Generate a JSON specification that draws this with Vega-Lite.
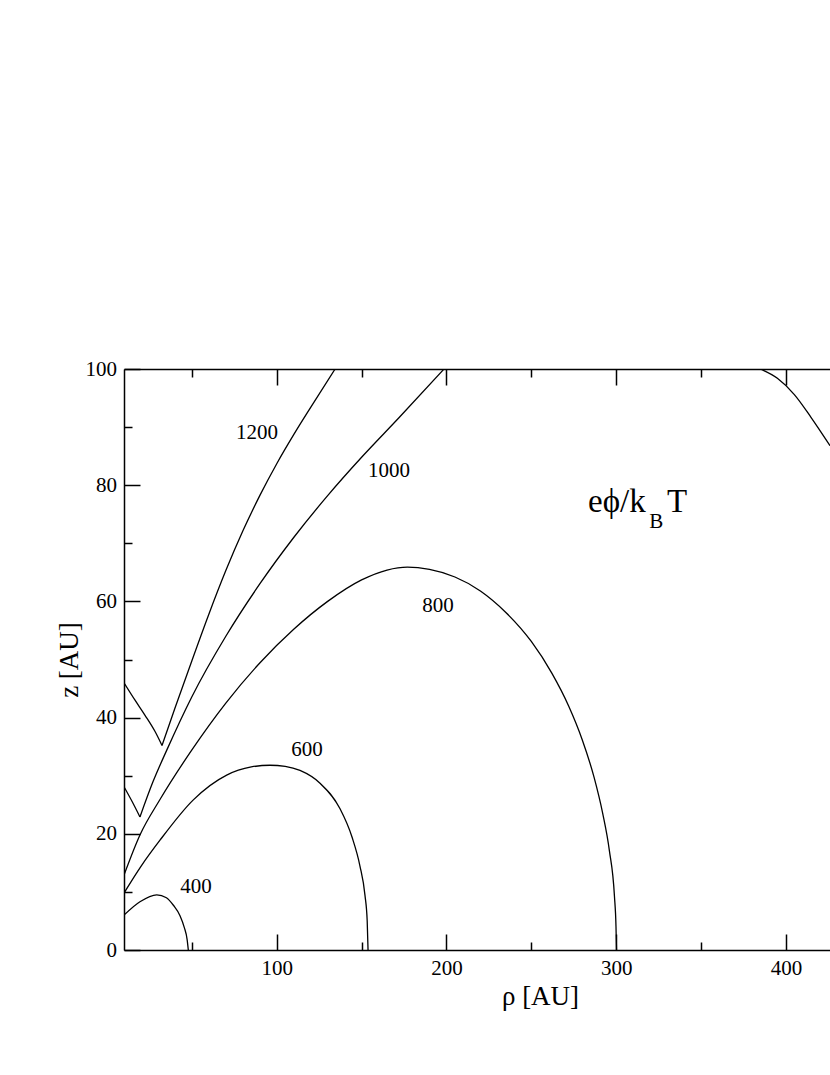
{
  "$schema": "https://vega.github.io/schema/vega-lite/v6.json",
  "width": 706,
  "height": 581,
  "autosize": "none",
  "padding": {"left": 124, "top": 369, "right": 0, "bottom": 125},
  "background": "white",
  "config": {
    "view": {"stroke": null},
    "font": "Liberation Serif",
    "axis": {
      "labelFont": "Liberation Serif", "titleFont": "Liberation Serif",
      "labelColor": "black", "titleColor": "black", "tickColor": "black", "domainColor": "black",
      "grid": false, "labelFontSize": 21, "titleFontSize": 27, "titleFontWeight": "normal",
      "tickWidth": 1.5, "domainWidth": 1.5, "labelOverlap": false, "labelFlush": false
    }
  },
  "resolve": {"axis": {"x": "independent", "y": "independent"}},
  "layer": [
    {
      "data": {"values": [
        {"seg": "1200a", "rho": 10, "z": 46.0}, {"seg": "1200a", "rho": 16.5, "z": 43.0}, {"seg": "1200a", "rho": 22.4, "z": 40.4}, {"seg": "1200a", "rho": 28.3, "z": 37.6}, {"seg": "1200a", "rho": 32.4, "z": 35.2},
        {"seg": "1200b", "rho": 32.4, "z": 35.2}, {"seg": "1200b", "rho": 40, "z": 41.6}, {"seg": "1200b", "rho": 50, "z": 49.8}, {"seg": "1200b", "rho": 60, "z": 57.8}, {"seg": "1200b", "rho": 70, "z": 65.3}, {"seg": "1200b", "rho": 80, "z": 72.1}, {"seg": "1200b", "rho": 90, "z": 78.2}, {"seg": "1200b", "rho": 100, "z": 83.7}, {"seg": "1200b", "rho": 110, "z": 88.7}, {"seg": "1200b", "rho": 120, "z": 93.4}, {"seg": "1200b", "rho": 134.4, "z": 100},
        {"seg": "1000a", "rho": 10, "z": 28.1}, {"seg": "1000a", "rho": 14.7, "z": 25.6}, {"seg": "1000a", "rho": 19.4, "z": 22.9},
        {"seg": "1000b", "rho": 19.4, "z": 22.9}, {"seg": "1000b", "rho": 27, "z": 28.9}, {"seg": "1000b", "rho": 35.2, "z": 34.4}, {"seg": "1000b", "rho": 50, "z": 43.6}, {"seg": "1000b", "rho": 70, "z": 54.0}, {"seg": "1000b", "rho": 90, "z": 63.0}, {"seg": "1000b", "rho": 110, "z": 71.0}, {"seg": "1000b", "rho": 130, "z": 78.2}, {"seg": "1000b", "rho": 150, "z": 84.8}, {"seg": "1000b", "rho": 172, "z": 91.6}, {"seg": "1000b", "rho": 198.6, "z": 100},
        {"seg": "800", "rho": 10, "z": 12.9}, {"seg": "800", "rho": 19.4, "z": 19.8}, {"seg": "800", "rho": 31.2, "z": 25.9}, {"seg": "800", "rho": 49.9, "z": 34.4}, {"seg": "800", "rho": 70, "z": 42.5}, {"seg": "800", "rho": 90, "z": 49.4}, {"seg": "800", "rho": 110, "z": 55.2}, {"seg": "800", "rho": 130, "z": 60.0}, {"seg": "800", "rho": 150, "z": 63.7}, {"seg": "800", "rho": 165, "z": 65.4}, {"seg": "800", "rho": 177, "z": 65.9}, {"seg": "800", "rho": 190, "z": 65.5}, {"seg": "800", "rho": 205, "z": 64.2}, {"seg": "800", "rho": 220, "z": 61.8}, {"seg": "800", "rho": 235, "z": 58.1}, {"seg": "800", "rho": 250, "z": 53.1}, {"seg": "800", "rho": 262, "z": 47.7}, {"seg": "800", "rho": 272, "z": 42.0}, {"seg": "800", "rho": 280, "z": 36.2}, {"seg": "800", "rho": 287, "z": 29.7}, {"seg": "800", "rho": 292, "z": 23.6}, {"seg": "800", "rho": 296, "z": 17.1}, {"seg": "800", "rho": 299, "z": 9.2}, {"seg": "800", "rho": 299.9, "z": 4.0}, {"seg": "800", "rho": 300.2, "z": 0},
        {"seg": "600", "rho": 10, "z": 9.8}, {"seg": "600", "rho": 20, "z": 14.4}, {"seg": "600", "rho": 31.2, "z": 18.9}, {"seg": "600", "rho": 50.7, "z": 25.8}, {"seg": "600", "rho": 70.5, "z": 30.1}, {"seg": "600", "rho": 85, "z": 31.5}, {"seg": "600", "rho": 96, "z": 31.8}, {"seg": "600", "rho": 105, "z": 31.6}, {"seg": "600", "rho": 113.7, "z": 30.9}, {"seg": "600", "rho": 125.5, "z": 28.7}, {"seg": "600", "rho": 137.3, "z": 24.3}, {"seg": "600", "rho": 144.4, "z": 19.4}, {"seg": "600", "rho": 149, "z": 14.5}, {"seg": "600", "rho": 152, "z": 9.4}, {"seg": "600", "rho": 153.3, "z": 5.0}, {"seg": "600", "rho": 153.8, "z": 0},
        {"seg": "400", "rho": 10, "z": 6.0}, {"seg": "400", "rho": 19.4, "z": 8.3}, {"seg": "400", "rho": 29.3, "z": 9.5}, {"seg": "400", "rho": 35, "z": 9.0}, {"seg": "400", "rho": 39.1, "z": 7.7}, {"seg": "400", "rho": 43, "z": 5.9}, {"seg": "400", "rho": 45.5, "z": 3.9}, {"seg": "400", "rho": 47.2, "z": 1.8}, {"seg": "400", "rho": 47.9, "z": 0},
        {"seg": "right", "rho": 385, "z": 100}, {"seg": "right", "rho": 395, "z": 98.4}, {"seg": "right", "rho": 405, "z": 95.6}, {"seg": "right", "rho": 415, "z": 91.6}, {"seg": "right", "rho": 426, "z": 86.8}
      ]},
      "mark": {"type": "line", "stroke": "black", "strokeWidth": 1.3, "interpolate": "monotone", "clip": true},
      "encoding": {
        "x": {"field": "rho", "type": "quantitative",
          "scale": {"domain": [10, 426], "nice": false, "zero": false},
          "axis": {"orient": "bottom", "values": [100, 200, 300, 400], "ticks": false, "domain": true, "labelPadding": 7,
            "title": "ρ [AU]", "titleX": 416, "titleY": 54, "titleBaseline": "alphabetic", "titleAlign": "center", "titleAnchor": null}},
        "y": {"field": "z", "type": "quantitative",
          "scale": {"domain": [0, 100], "nice": false, "zero": false},
          "axis": {"orient": "left", "values": [0, 20, 40, 60, 80, 100], "ticks": false, "domain": true, "labelPadding": 7.5,
            "title": "z [AU]", "titleX": -47, "titleY": 290.5, "titleAngle": -90, "titleBaseline": "alphabetic", "titleAlign": "center", "titleAnchor": null}},
        "detail": {"field": "seg"}
      }
    },
    {
      "data": {"values": [
        {"t": "1200", "rho": 88.4, "z": 89.0},
        {"t": "1000", "rho": 166.2, "z": 82.4},
        {"t": "800", "rho": 195, "z": 59.2},
        {"t": "600", "rho": 117.9, "z": 34.4},
        {"t": "400", "rho": 52.4, "z": 10.9}
      ]},
      "mark": {"type": "text", "font": "Liberation Serif", "fontSize": 21, "color": "black", "align": "center", "baseline": "middle"},
      "encoding": {
        "x": {"field": "rho", "type": "quantitative",
          "axis": {"orient": "bottom", "values": [100, 200, 300, 400], "labels": false, "domain": false, "ticks": true, "tickSize": -16, "title": null}},
        "y": {"field": "z", "type": "quantitative",
          "axis": {"orient": "left", "values": [0, 20, 40, 60, 80, 100], "labels": false, "domain": false, "ticks": true, "tickSize": -16, "title": null}},
        "text": {"field": "t"}
      }
    },
    {
      "data": {"values": [{"t": "eϕ/k", "rho": 283.4, "z": 75.4}]},
      "mark": {"type": "text", "font": "Liberation Serif", "fontSize": 33, "color": "black", "align": "left", "baseline": "alphabetic"},
      "encoding": {
        "x": {"field": "rho", "type": "quantitative",
          "axis": {"orient": "bottom", "values": [50, 150, 250, 350], "labels": false, "domain": false, "ticks": true, "tickSize": -8, "title": null}},
        "y": {"field": "z", "type": "quantitative",
          "axis": {"orient": "left", "values": [10, 30, 50, 70, 90], "labels": false, "domain": false, "ticks": true, "tickSize": -8, "title": null}},
        "text": {"field": "t"}
      }
    },
    {
      "data": {"values": [{"t": "B", "rho": 319.5, "z": 72.6}]},
      "mark": {"type": "text", "font": "Liberation Serif", "fontSize": 21, "color": "black", "align": "left", "baseline": "alphabetic"},
      "encoding": {
        "x": {"field": "rho", "type": "quantitative",
          "axis": {"orient": "top", "values": [100, 200, 300, 400], "labels": false, "domain": true, "ticks": true, "tickSize": -16, "title": null}},
        "y": {"field": "z", "type": "quantitative", "axis": null},
        "text": {"field": "t"}
      }
    },
    {
      "data": {"values": [{"t": "T", "rho": 330, "z": 75.4}]},
      "mark": {"type": "text", "font": "Liberation Serif", "fontSize": 33, "color": "black", "align": "left", "baseline": "alphabetic"},
      "encoding": {
        "x": {"field": "rho", "type": "quantitative",
          "axis": {"orient": "top", "values": [50, 150, 250, 350], "labels": false, "domain": false, "ticks": true, "tickSize": -8, "title": null}},
        "y": {"field": "z", "type": "quantitative", "axis": null},
        "text": {"field": "t"}
      }
    }
  ]
}
